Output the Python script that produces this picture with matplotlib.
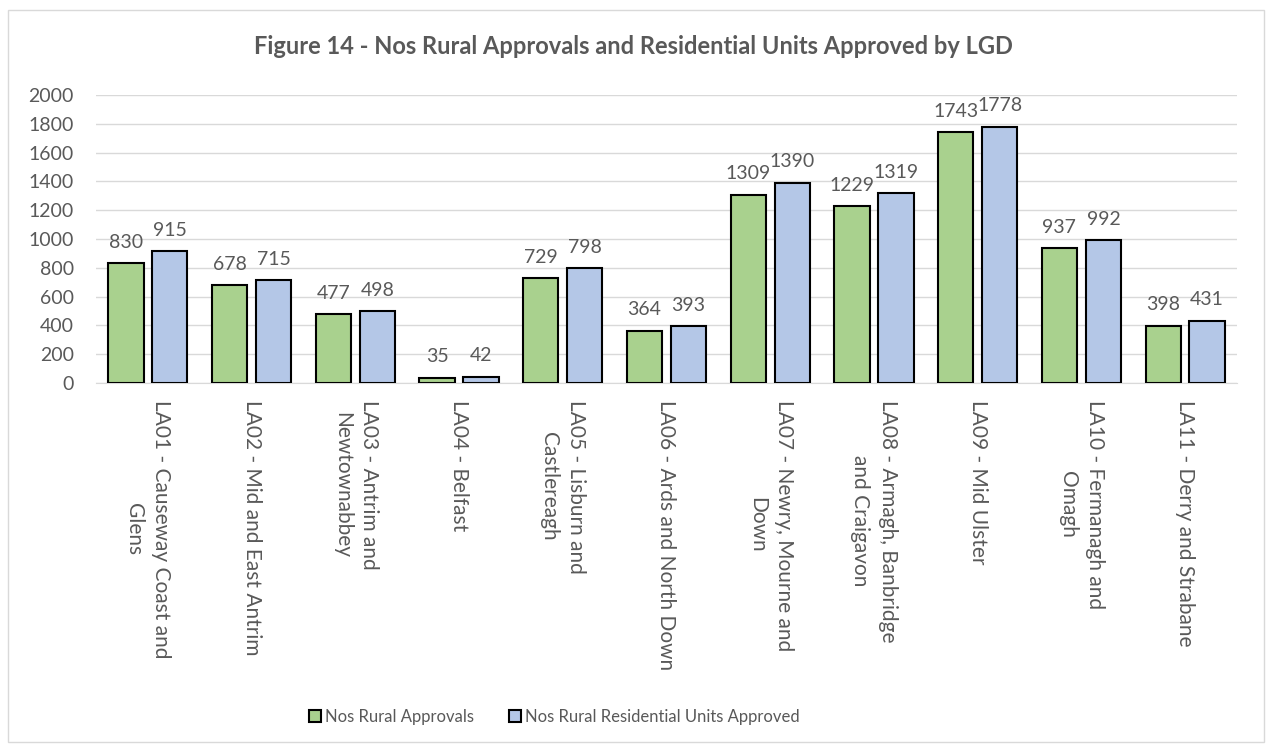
import matplotlib.pyplot as plt
import numpy as np
from matplotlib.patches import Rectangle

plt.rcParams['font.family'] = ['Lato', 'DejaVu Sans']

categories = ["LA01 - Causeway Coast and\nGlens", "LA02 - Mid and East Antrim",
              "LA03 - Antrim and\nNewtownabbey", "LA04 - Belfast",
              "LA05 - Lisburn and\nCastlereagh", "LA06 - Ards and North Down",
              "LA07 - Newry, Mourne and\nDown", "LA08 - Armagh, Banbridge\nand Craigavon",
              "LA09 - Mid Ulster", "LA10 - Fermanagh and\nOmagh", "LA11 - Derry and Strabane"]
approvals = [830, 678, 477, 35, 729, 364, 1309, 1229, 1743, 937, 398]
units = [915, 715, 498, 42, 798, 393, 1390, 1319, 1778, 992, 431]

txt = "#595959"
fig = plt.figure(figsize=(12.66, 7.49), dpi=100)
fig.patches.append(Rectangle((8 / 1266, 7 / 749), 1256 / 1266, 732 / 749,
                             transform=fig.transFigure, fill=False,
                             edgecolor="#D9D9D9", linewidth=1))
ax = fig.add_axes([96 / 1266, 1 - 383 / 749, (1237 - 96) / 1266, (383 - 95) / 749])

x = np.arange(len(categories))
w = 0.34
b1 = ax.bar(x - 0.212, approvals, w, color="#A9D18E", edgecolor="black", linewidth=1.5,
            label="Nos Rural Approvals", zorder=3)
b2 = ax.bar(x + 0.212, units, w, color="#B4C7E7", edgecolor="black", linewidth=1.5,
            label="Nos Rural Residential Units Approved", zorder=3)
for bars in (b1, b2):
    ax.bar_label(bars, padding=9, fontsize=14, color=txt)

ax.set_xlim(-0.5, len(categories) - 0.5)
ax.set_ylim(0, 2000)
ax.set_yticks(range(0, 2001, 200))
ax.grid(axis="y", color="#D9D9D9", linewidth=1, zorder=0)
for s in ("top", "right", "left"):
    ax.spines[s].set_visible(False)
ax.spines["bottom"].set_color("#D9D9D9")
ax.tick_params(axis="both", length=0, labelsize=14, colors=txt)
ax.tick_params(axis="y", pad=16)
ax.set_xticks(x)
ax.set_xticklabels(categories, rotation=270, ha="center", va="top",
                   multialignment="center", linespacing=1.45, fontsize=15)
ax.tick_params(axis="x", pad=12)

fig.text(0.5, 1 - 46 / 749, "Figure 14 - Nos Rural Approvals and Residential Units Approved by LGD",
         ha="center", va="center", fontsize=17, fontweight="bold", color=txt)
fig.legend(handles=[b1, b2], loc="center", bbox_to_anchor=(554 / 1266, 1 - 717 / 749), ncol=2,
           frameon=False, fontsize=12, labelcolor=txt, handlelength=0.75, handleheight=0.75,
           handletextpad=0.2, columnspacing=2.1)

fig.savefig("out.png", dpi=100)
